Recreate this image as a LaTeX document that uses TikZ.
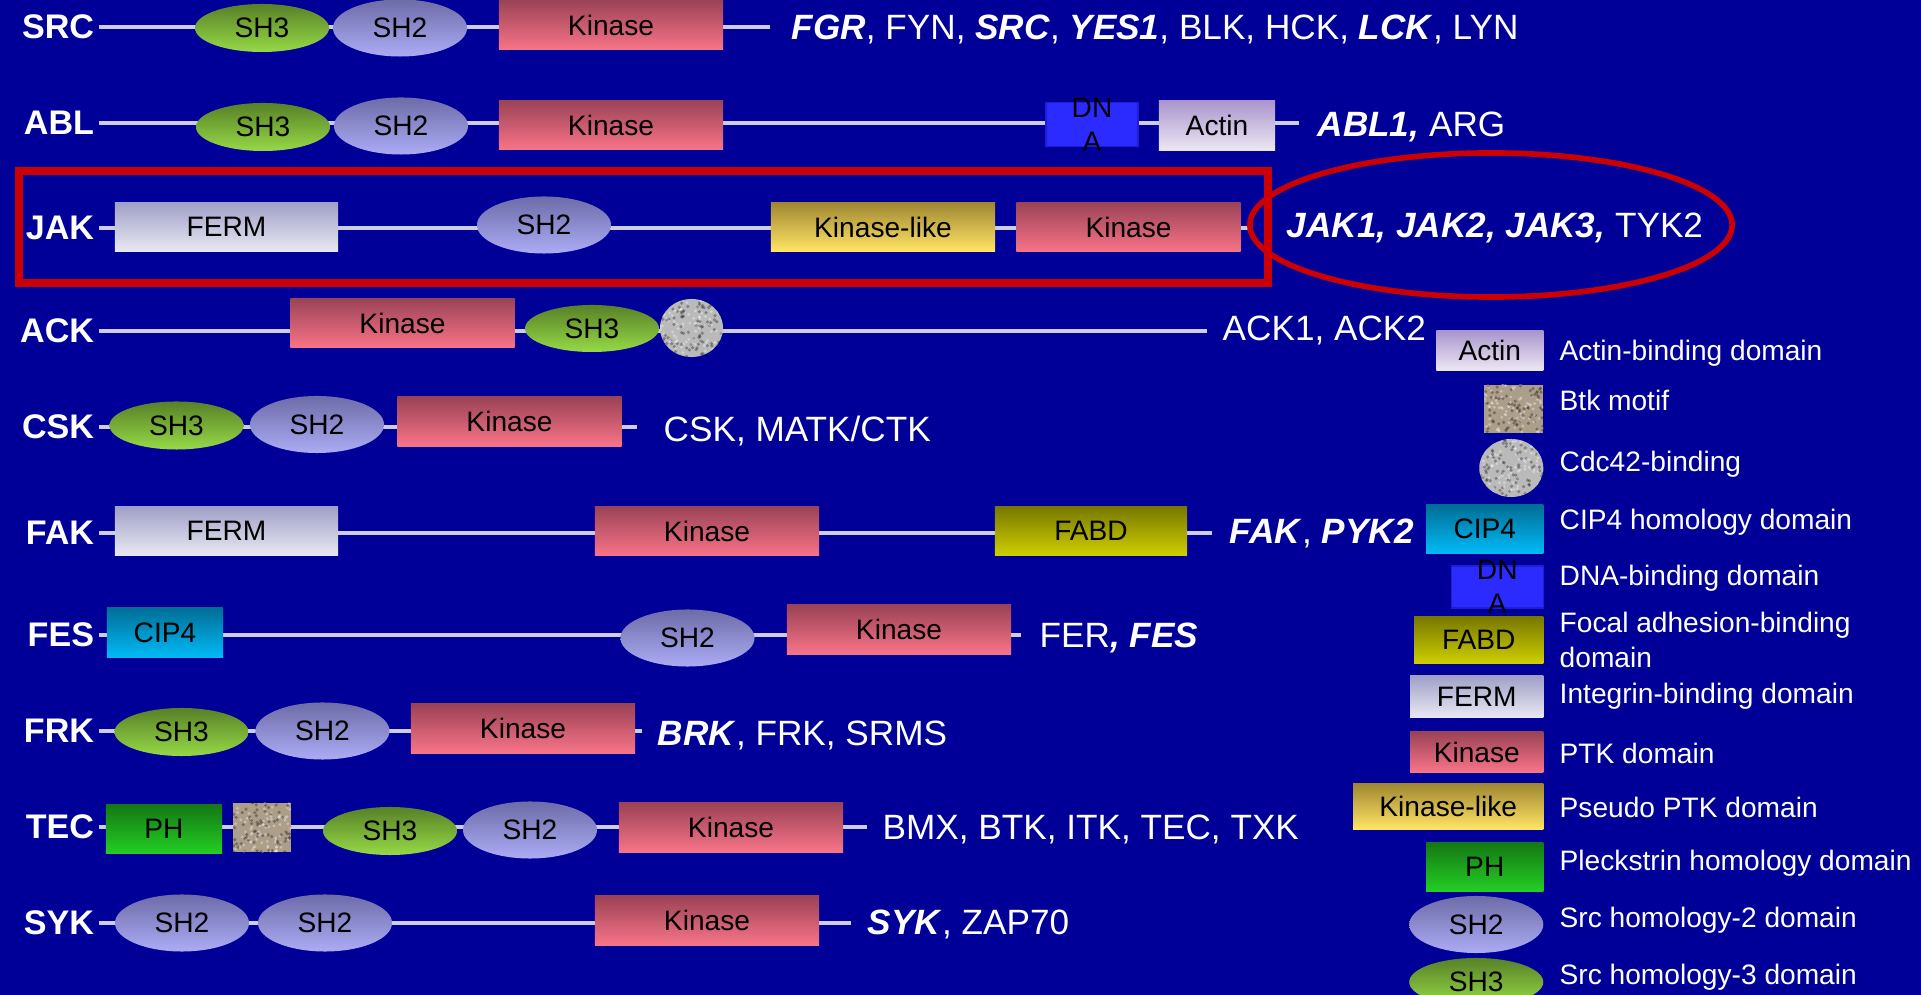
\documentclass[tikz,border=0pt]{standalone}
\usepackage{fontspec}
\setmainfont{Liberation Sans}
\usepackage{tikz}
\usetikzlibrary{shapes.geometric,calc}
\definecolor{slideblue}{RGB}{0,0,153}
\definecolor{linegray}{RGB}{205,205,225}
\definecolor{hired}{RGB}{204,0,0}
\definecolor{shthreetop}{RGB}{88,128,40}
\definecolor{shthreebot}{RGB}{150,218,70}
\definecolor{shtwotop}{RGB}{108,108,168}
\definecolor{shtwobot}{RGB}{172,172,246}
\definecolor{kintop}{RGB}{155,66,86}
\definecolor{kinbot}{RGB}{248,116,136}
\definecolor{fermtop}{RGB}{160,160,200}
\definecolor{fermbot}{RGB}{232,232,242}
\definecolor{liketop}{RGB}{160,136,50}
\definecolor{likebot}{RGB}{255,228,100}
\definecolor{actintop}{RGB}{170,150,205}
\definecolor{actinbot}{RGB}{236,230,243}
\definecolor{ciptop}{RGB}{0,110,150}
\definecolor{cipbot}{RGB}{0,186,246}
\definecolor{fabdtop}{RGB}{120,120,0}
\definecolor{fabdbot}{RGB}{206,206,0}
\definecolor{phtop}{RGB}{20,120,20}
\definecolor{phbot}{RGB}{36,206,36}
\definecolor{dnafill}{RGB}{43,43,255}
\definecolor{dnaedge}{RGB}{30,30,215}
\definecolor{btkfill}{RGB}{172,158,136}
\definecolor{cdcfill}{RGB}{186,186,186}

\newcommand\domfont{\fontsize{8}{9.6}\selectfont}
\newcommand\famfont{\fontsize{10}{12}\selectfont}
\newcommand\keyfont{\fontsize{8}{10}\selectfont}
\newcommand\rowfont{\fontsize{9.7}{11}\selectfont\bfseries}
\newcommand\bi[1]{\textbf{\textit{#1}}}

\tikzset{
  dom/.style={inner sep=0pt, font=\domfont, text=black},
  sh3/.style={dom, ellipse, top color=shthreetop, bottom color=shthreebot,
    minimum width=1.34cm, minimum height=0.48cm},
  sh2/.style={dom, ellipse, top color=shtwotop, bottom color=shtwobot,
    minimum width=1.34cm, minimum height=0.57cm},
  kin/.style={dom, rectangle, top color=kintop, bottom color=kinbot,
    minimum width=2.24cm, minimum height=0.49cm},
  ferm/.style={dom, rectangle, top color=fermtop, bottom color=fermbot,
    minimum width=2.23cm, minimum height=0.48cm},
  kinlike/.style={dom, rectangle, top color=liketop, bottom color=likebot,
    minimum width=2.24cm, minimum height=0.48cm},
  actin/.style={dom, rectangle, top color=actintop, bottom color=actinbot,
    minimum width=1.16cm, minimum height=0.49cm},
  cip4/.style={dom, rectangle, top color=ciptop, bottom color=cipbot,
    minimum width=1.16cm, minimum height=0.49cm},
  fabd/.style={dom, rectangle, top color=fabdtop, bottom color=fabdbot,
    minimum width=1.92cm, minimum height=0.48cm},
  ph/.style={dom, rectangle, top color=phtop, bottom color=phbot,
    minimum width=1.16cm, minimum height=0.48cm},
  dnabox/.style={dom, rectangle, fill=dnafill, draw=dnaedge, line width=0.4pt,
    minimum width=0.92cm, minimum height=0.44cm,
    label={[dom, align=center]center:DN\\A}},
  speckle/.style={path picture={
    \foreach \k in {1,...,110}{
      \pgfmathsetmacro\spx{rnd}\pgfmathsetmacro\spy{rnd}
      \fill[black, opacity=0.3] ($(path picture bounding box.south west)+(\spx*0.7cm,\spy*0.65cm)$) circle (0.5pt);
      \pgfmathsetmacro\spx{rnd}\pgfmathsetmacro\spy{rnd}
      \fill[white, opacity=0.35] ($(path picture bounding box.south west)+(\spx*0.7cm,\spy*0.65cm)$) circle (0.45pt);
    }}},
  btk/.style={dom, rectangle, fill=btkfill, speckle,
    minimum width=0.58cm, minimum height=0.49cm},
  cdc/.style={dom, ellipse, fill=cdcfill, speckle,
    minimum width=0.63cm, minimum height=0.58cm},
  backbone/.style={draw=linegray, line width=1.4pt},
  rowname/.style={anchor=east, inner sep=1.2pt, text depth=0pt, text=white, font=\rowfont},
  family/.style={anchor=west, inner sep=0pt, text depth=0pt, text=white, font=\famfont},
  keytxt/.style={anchor=west, inner sep=0pt, text=white, font=\keyfont, align=left},
  hilite/.style={draw=hired, line width=2pt}
}

\begin{document}
\begin{tikzpicture}[x=0.01cm, y=-0.01cm]
    \pgfmathsetseed{11}
    \useasboundingbox (0,0) rectangle (1921,995);
    \fill[slideblue] (0,0) rectangle (1921,995);

    % SRC
    \coordinate (src-end) at (770,27);
    \node[rowname] (src) at (99,27) {SRC};
    \draw[backbone] (src.east) -- (src-end);
    \node[sh3] (src-sh3) at (262,28) {SH3};
    \node[sh2] (src-sh2) at (400,28) {SH2};
    \node[kin] (src-kin) at (611,25) {Kinase};
    \node[family] (src-fam) at (791,27) {\bi{FGR}, FYN, \bi{SRC}, \bi{YES1}, BLK, HCK, \bi{LCK}, LYN};

    % ABL
    \coordinate (abl-end) at (1299,123);
    \node[rowname] (abl) at (99,123) {ABL};
    \draw[backbone] (abl.east) -- (abl-end);
    \node[sh3] (abl-sh3) at (263,127) {SH3};
    \node[sh2] (abl-sh2) at (401,126) {SH2};
    \node[kin] (abl-kin) at (611,125) {Kinase};
    \node[dnabox] (abl-dna) at (1092,124.5) {};
    \node[actin] (abl-act) at (1217,125.5) {Actin};
    \node[family] (abl-fam) at (1317,124) {\bi{ABL1,} ARG};

    % JAK
    \coordinate (jak-end) at (1250,228);
    \node[rowname] (jak) at (99,228) {JAK};
    \draw[backbone] (jak.east) -- (jak-end);
    \node[ferm] (jak-ferm) at (226.5,227) {FERM};
    \node[sh2] (jak-sh2) at (544,225) {SH2};
    \node[kinlike] (jak-like) at (883,227) {Kinase-like};
    \node[kin] (jak-kin) at (1128.5,227) {Kinase};
    \node[family] (jak-fam) at (1286,225) {\bi{JAK1, JAK2, JAK3,} TYK2};
    \draw[hilite] (19,171) rectangle (1268,283);
    \draw[hilite, line width=1.6pt] (1491,225) ellipse [x radius=2.41cm, y radius=0.72cm];

    % ACK
    \coordinate (ack-end) at (1207,331);
    \node[rowname] (ack) at (99,331) {ACK};
    \draw[backbone] (ack.east) -- (ack-end);
    \node[kin] (ack-kin) at (402.5,323) {Kinase};
    \node[sh3, minimum height=0.47cm] (ack-sh3) at (592,328.5) {SH3};
    \node[cdc] (ack-cdc) at (691.5,328) {};
    \node[family] (ack-fam) at (1222,328) {ACK1, ACK2};

    % CSK
    \coordinate (csk-end) at (637,427);
    \node[rowname] (csk) at (99,427) {CSK};
    \draw[backbone] (csk.east) -- (csk-end);
    \node[sh3] (csk-sh3) at (176.5,425.5) {SH3};
    \node[sh2] (csk-sh2) at (317,424.5) {SH2};
    \node[kin] (csk-kin) at (509.5,421.5) {Kinase};
    \node[family] (csk-fam) at (663,429) {CSK, MATK/CTK};

    % FAK
    \coordinate (fak-end) at (1212,533);
    \node[rowname] (fak) at (99,533) {FAK};
    \draw[backbone] (fak.east) -- (fak-end);
    \node[ferm] (fak-ferm) at (226.5,531) {FERM};
    \node[kin] (fak-kin) at (707,531) {Kinase};
    \node[fabd] (fak-fabd) at (1091,531) {FABD};
    \node[family] (fak-fam) at (1229,531) {\bi{FAK}, \bi{PYK2}};

    % FES
    \coordinate (fes-end) at (1021,635);
    \node[rowname] (fes) at (99,635) {FES};
    \draw[backbone] (fes.east) -- (fes-end);
    \node[cip4] (fes-cip) at (165,632.5) {CIP4};
    \node[sh2] (fes-sh2) at (687.5,638) {SH2};
    \node[kin] (fes-kin) at (899,629.5) {Kinase};
    \node[family] (fes-fam) at (1039,635) {FER\bi{, FES}};

    % FRK
    \coordinate (frk-end) at (642,731);
    \node[rowname] (frk) at (99,731) {FRK};
    \draw[backbone] (frk.east) -- (frk-end);
    \node[sh3] (frk-sh3) at (181.5,732) {SH3};
    \node[sh2] (frk-sh2) at (322.5,731) {SH2};
    \node[kin] (frk-kin) at (523,728.5) {Kinase};
    \node[family] (frk-fam) at (657,733) {\bi{BRK}, FRK, SRMS};

    % TEC
    \coordinate (tec-end) at (867,827);
    \node[rowname] (tec) at (99,827) {TEC};
    \draw[backbone] (tec.east) -- (tec-end);
    \node[ph] (tec-ph) at (164,829) {PH};
    \node[btk] (tec-btk) at (262,827.5) {};
    \node[sh3] (tec-sh3) at (390,831) {SH3};
    \node[sh2] (tec-sh2) at (530,830) {SH2};
    \node[kin] (tec-kin) at (731,827.5) {Kinase};
    \node[family] (tec-fam) at (882,827) {BMX, BTK, ITK, TEC, TXK};

    % SYK
    \coordinate (syk-end) at (851,923);
    \node[rowname] (syk) at (99,923) {SYK};
    \draw[backbone] (syk.east) -- (syk-end);
    \node[sh2] (syk-sh2a) at (182,923) {SH2};
    \node[sh2] (syk-sh2b) at (325,923) {SH2};
    \node[kin] (syk-kin) at (707,920.5) {Kinase};
    \node[family] (syk-fam) at (867,922) {\bi{SYK}, ZAP70};

    % Key
    \foreach \kstyle/\kw/\kh/\ky/\ty/\ktext/\kdesc in {
        actin/1.07/0.39/350.5/353/Actin/Actin-binding domain,
        btk/0.59/0.48/409/400//Btk motif,
        cdc/0.64/0.58/468/464//Cdc42-binding,
        cip4/1.17/0.48/529/522/CIP4/CIP4 homology domain,
        dnabox/0.92/0.42/587/578//DNA-binding domain,
        fabd/1.29/0.46/640/640/FABD/{Focal adhesion-binding\\domain},
        ferm/1.33/0.41/696.5/696/FERM/Integrin-binding domain,
        kin/1.33/0.40/752/753/Kinase/PTK domain,
        kinlike/1.90/0.45/806.5/807/Kinase-like/Pseudo PTK domain,
        ph/1.17/0.48/867/863/PH/Pleckstrin homology domain,
        sh2/1.34/0.57/924.5/920/SH2/Src homology-2 domain,
        sh3/1.34/0.48/982/977/SH3/Src homology-3 domain}{
        \node[\kstyle, anchor=east, minimum width=\kw cm, minimum height=\kh cm] (key-\kstyle) at (1544,\ky) {\ktext};
        \node[keytxt] (desc-\kstyle) at (1559,\ty) {\kdesc};
    }
\end{tikzpicture}
\end{document}
